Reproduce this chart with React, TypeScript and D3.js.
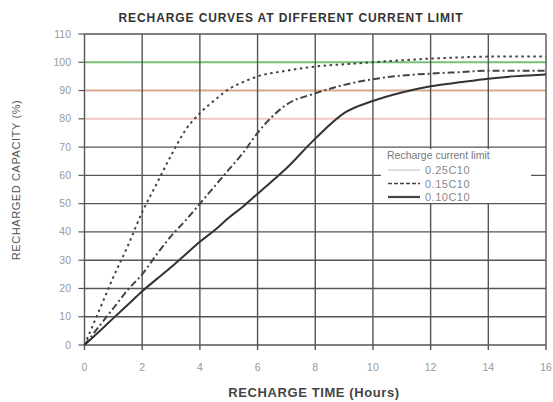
import React from "react";
import * as d3 from "d3";

const hours = [0, 0.5, 1, 1.5, 2, 2.5, 3, 3.5, 4, 4.5, 5, 5.5, 6, 7, 8, 9, 10, 11, 12, 13, 14, 15, 16];
const c025 = [0, 12, 24, 35, 47, 57, 67, 76, 82, 86.5, 90.5, 93, 95, 97, 98.5, 99.3, 100, 100.7, 101.3, 101.7, 102, 102, 102];
const c015 = [0, 6.5, 13, 19.5, 25, 32, 38.5, 44, 50, 56, 62, 68, 75, 85, 89, 92, 94, 95.3, 96, 96.5, 97, 97, 97];
const c010 = [0, 4.7, 9.5, 14.2, 19, 23.3, 27.5, 32, 36.5, 40.5, 45, 49, 53.5, 62.5, 73, 82, 86.3, 89.3, 91.5, 92.9, 94.2, 95.1, 95.7];

const xTicks = [0, 2, 4, 6, 8, 10, 12, 14, 16];
const yTicks = [0, 10, 20, 30, 40, 50, 60, 70, 80, 90, 100, 110];
const refLines = [
  { v: 100, color: "#74c274" },
  { v: 90, color: "#d6a98c" },
  { v: 80, color: "#f4c6c6" },
];
const legendLabels = ["0.25C10", "0.15C10", "0.10C10"];

export default function App() {
  const x = d3.scaleLinear().domain([0, 16]).range([84.5, 546]);
  const y = d3.scaleLinear().domain([0, 110]).range([345, 34]);
  const line = (vals: number[]) =>
    d3.line<number>().x((_, i) => x(hours[i])).y((d) => y(d)).curve(d3.curveMonotoneX)(vals) || "";
  const grid = "#555";
  const font = "Arial, 'Liberation Sans', sans-serif";
  const series = [
    { vals: c025, dash: "2.5,3.5", w: 2, color: "#444" },
    { vals: c015, dash: "7,3,2,3", w: 2, color: "#444" },
    { vals: c010, dash: "", w: 2, color: "#333" },
  ];
  const legendSamples = [
    { dash: "", w: 1, color: "#bbb" },
    { dash: "4,2", w: 1.5, color: "#444" },
    { dash: "", w: 2.2, color: "#444" },
  ];
  return (
    <svg width={553} height={402} style={{ position: "absolute", left: 0, top: 0, background: "#fff" }} fontFamily={font}>
      <rect x={0} y={0} width={553} height={402} fill="#fff" />
      <text x={291} y={22} textAnchor="middle" fontSize={12} fontWeight="bold" fill="#333" letterSpacing={0.9}>
        RECHARGE CURVES AT DIFFERENT CURRENT LIMIT
      </text>
      {yTicks.filter((t) => !refLines.some((r) => r.v === t)).map((t) => (
        <line key={"gy" + t} x1={x(0)} x2={x(16)} y1={y(t)} y2={y(t)} stroke={grid} strokeWidth={1.4} />
      ))}
      {refLines.map((r) => (
        <line key={"r" + r.v} x1={x(0)} x2={x(16)} y1={y(r.v)} y2={y(r.v)} stroke={r.color} strokeWidth={2} />
      ))}
      {xTicks.map((t) => (
        <line key={"gx" + t} x1={x(t)} x2={x(t)} y1={y(110)} y2={y(0) + 5} stroke={grid} strokeWidth={1.4} />
      ))}
      {yTicks.map((t) => (
        <line key={"ty" + t} x1={x(0) - 6} x2={x(0)} y1={y(t)} y2={y(t)} stroke={grid} strokeWidth={1.2} />
      ))}
      {yTicks.map((t) => (
        <text key={"ly" + t} x={71} y={y(t) + 3.5} textAnchor="end" fontSize={10.5} fill="#999">
          {t}
        </text>
      ))}
      {xTicks.map((t) => (
        <text key={"lx" + t} x={x(t)} y={371} textAnchor="middle" fontSize={10.5} fill="#999">
          {t}
        </text>
      ))}
      <rect x={381} y={149} width={150} height={54} fill="#fff" />
      {series.map((s, i) => (
        <path key={"s" + i} d={line(s.vals)} fill="none" stroke={s.color} strokeWidth={s.w} strokeDasharray={s.dash} />
      ))}
      <text x={387} y={159} fontSize={10.5} fill="#777">Recharge current limit</text>
      {legendLabels.map((l, i) => (
        <g key={"lg" + i}>
          <line x1={388} x2={420} y1={170 + i * 13.5} y2={170 + i * 13.5} stroke={legendSamples[i].color} strokeWidth={legendSamples[i].w} strokeDasharray={legendSamples[i].dash} />
          <text x={425} y={174 + i * 13.5} fontSize={11} fill="#888" letterSpacing={0.5}>{l}</text>
        </g>
      ))}
      <text transform="translate(20,180) rotate(-90)" textAnchor="middle" fontSize={11} fill="#555" letterSpacing={0.6}>
        RECHARGED CAPACITY (%)
      </text>
      <text x={314} y={397} textAnchor="middle" fontSize={13} fontWeight="bold" fill="#444" letterSpacing={0.6}>
        RECHARGE TIME (Hours)
      </text>
    </svg>
  );
}
